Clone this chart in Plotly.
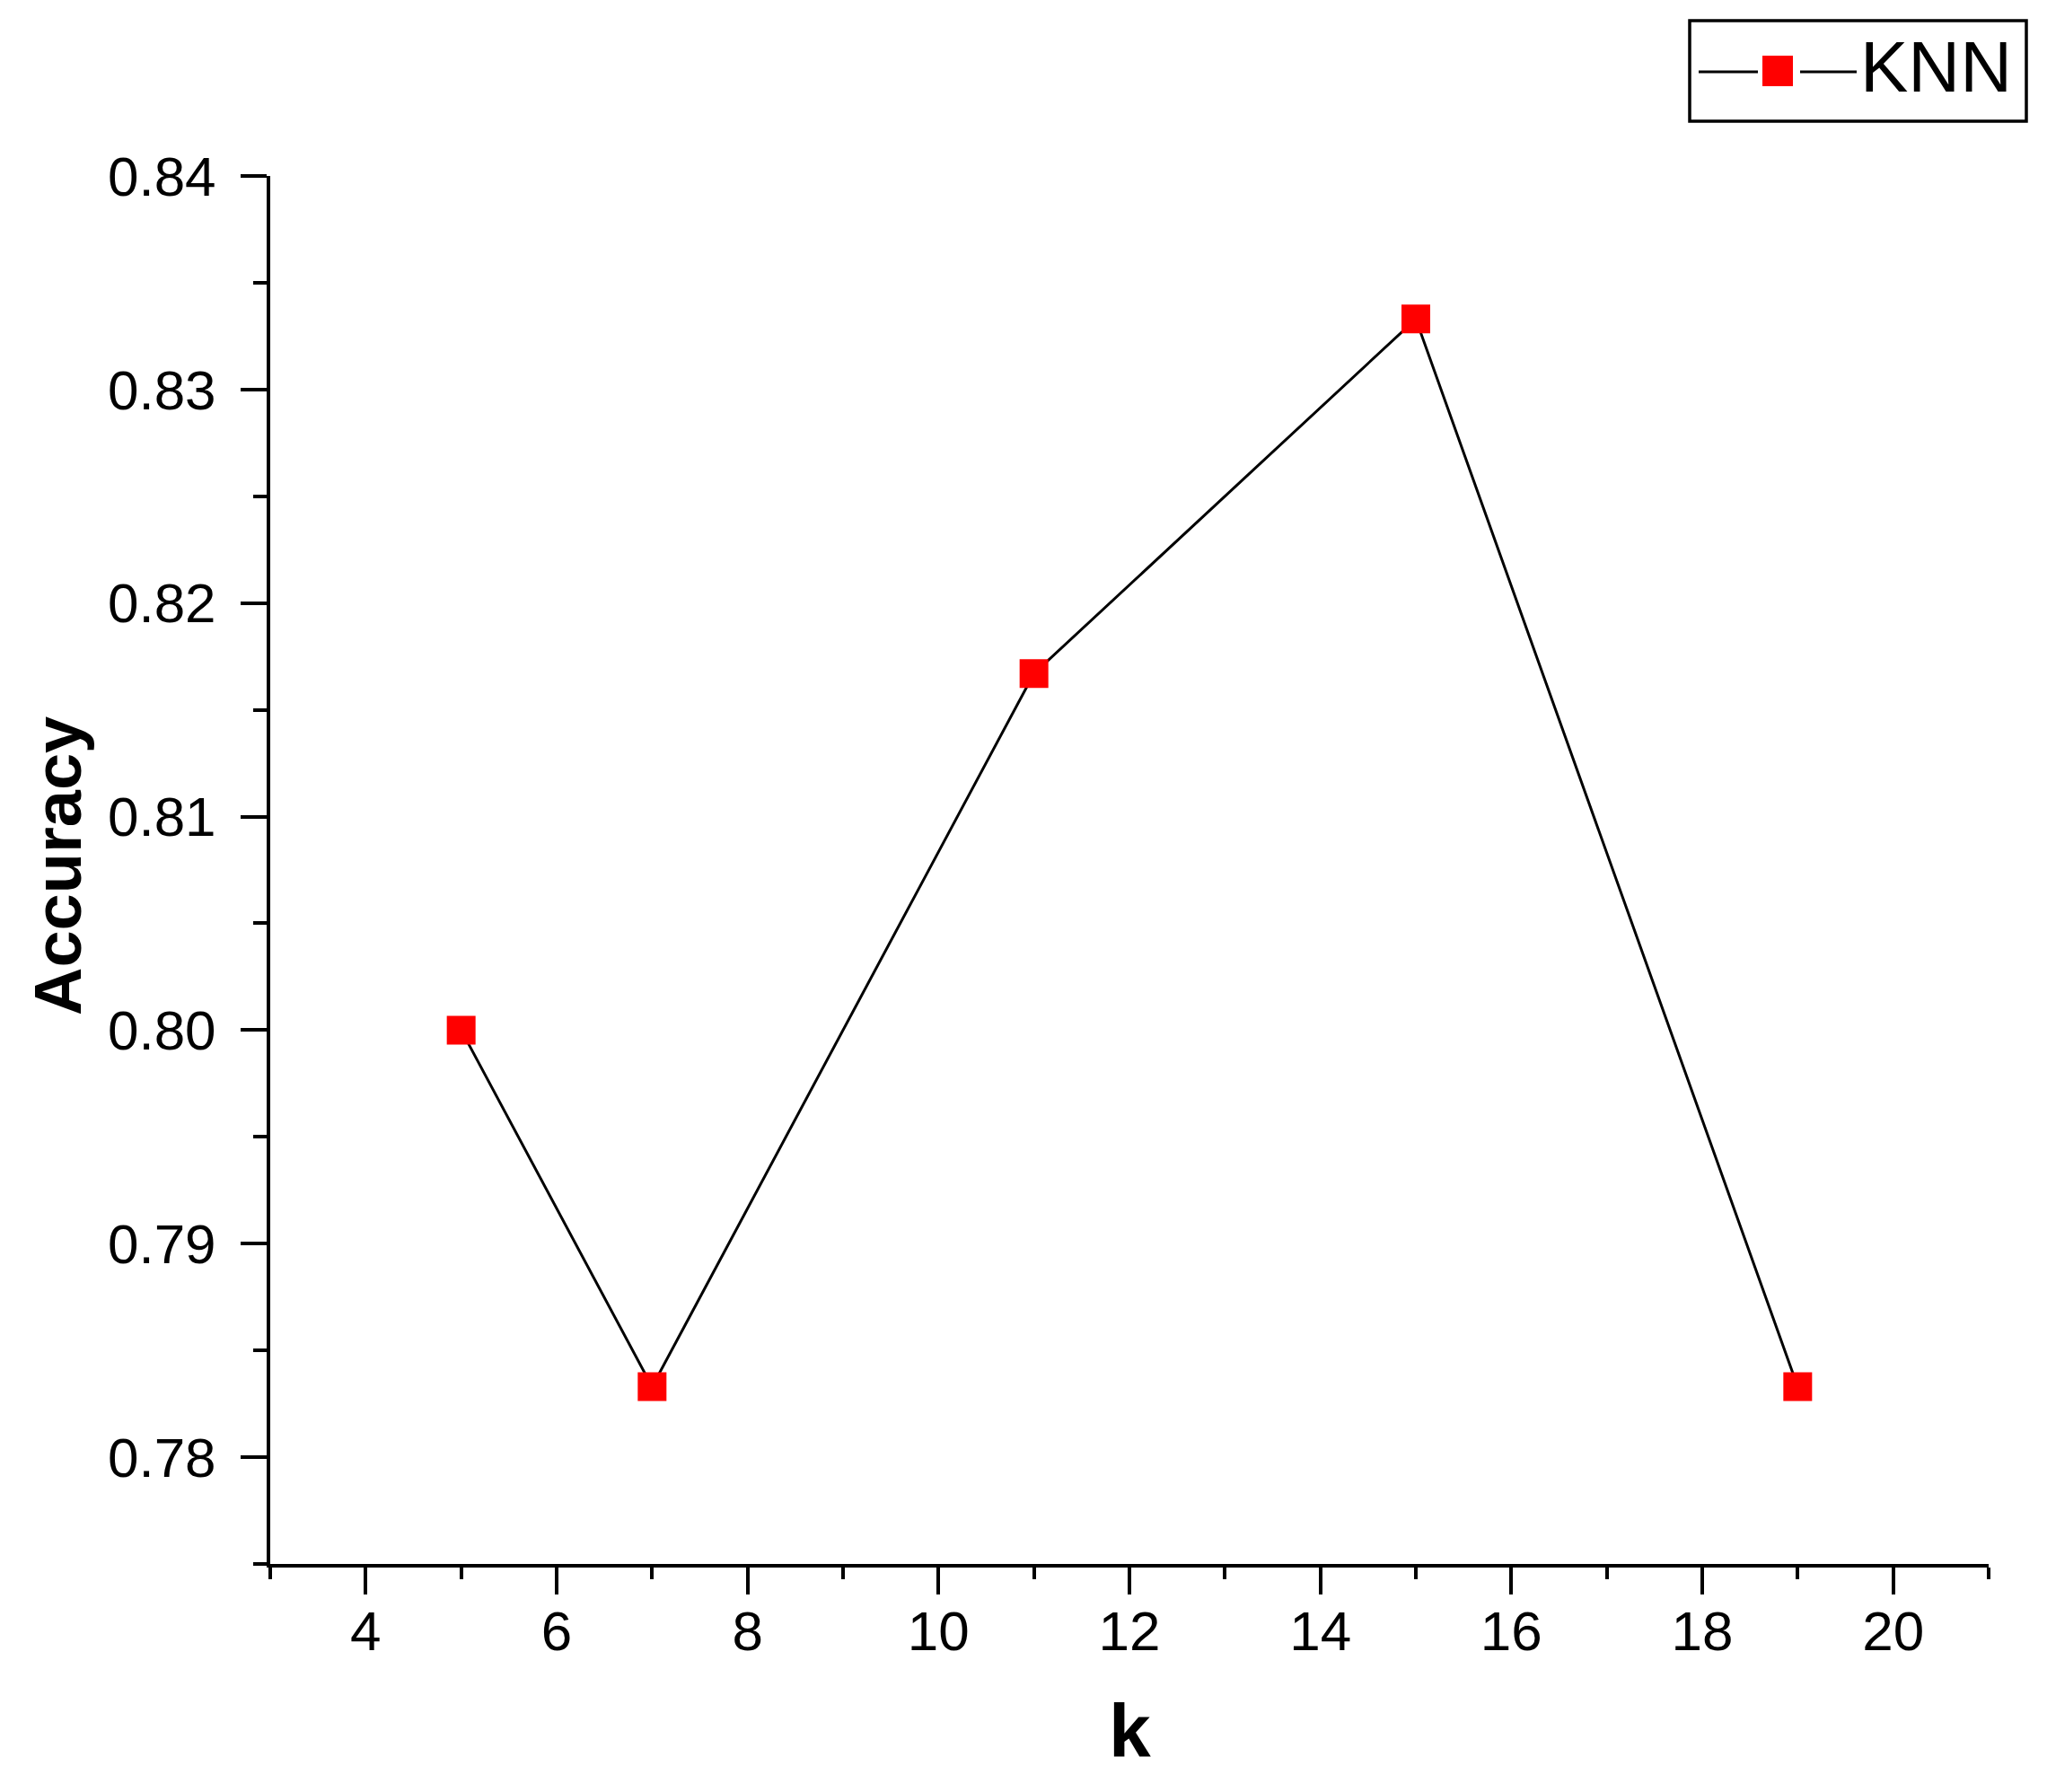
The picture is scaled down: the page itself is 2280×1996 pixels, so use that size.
import plotly.graph_objects as go

# data
k_values = [5, 7, 11, 15, 19]
accuracy = [0.8, 0.7833, 0.8167, 0.8333, 0.7833]
series_name = 'KNN'

# the page body adds an 8px margin, so the figure is made that much smaller
OFF = 8
W, H = 2280 - 2 * OFF, 1996 - 2 * OFF
# plot area in screen pixels (as measured on the reference)
L, R, T, B = 301, 2215, 196, 1742
pw, ph = R - L, B - T


def px_x(px):
    return (px - L) / pw


def px_y(py):
    return (B - py) / ph


font_family = 'Liberation Sans, Arial, sans-serif'

fig = go.Figure()
fig.add_trace(go.Scatter(
    x=k_values,
    y=accuracy,
    mode='lines+markers',
    name=series_name,
    line=dict(color='black', width=3),
    marker=dict(symbol='square', size=32, color='#ff0000', line=dict(width=0)),
    showlegend=False,
))

# hand-drawn legend box (Origin style)
legend_shapes = [
    dict(type='rect', xref='paper', yref='paper',
         x0=px_x(1882), x1=px_x(2257), y0=px_y(135), y1=px_y(23),
         line=dict(color='black', width=3.5), fillcolor='white'),
    dict(type='line', xref='paper', yref='paper',
         x0=px_x(1892), x1=px_x(1958), y0=px_y(80), y1=px_y(80),
         line=dict(color='black', width=3)),
    dict(type='line', xref='paper', yref='paper',
         x0=px_x(2005), x1=px_x(2068), y0=px_y(80), y1=px_y(80),
         line=dict(color='black', width=3)),
    dict(type='rect', xref='paper', yref='paper',
         x0=px_x(1963), x1=px_x(1997), y0=px_y(96), y1=px_y(62),
         line=dict(width=0), fillcolor='#ff0000'),
]

fig.update_layout(
    width=W,
    height=H,
    margin=dict(l=L - OFF, r=W - (R - OFF), t=T - OFF, b=H - (B - OFF)),
    plot_bgcolor='white',
    paper_bgcolor='white',
    font=dict(family=font_family, size=62, color='black'),
    shapes=legend_shapes,
    annotations=[
        dict(text=series_name, xref='paper', yref='paper',
             x=px_x(2070), y=px_y(74), xanchor='left', yanchor='middle',
             showarrow=False, font=dict(size=80, color='black')),
        dict(text='<b>k</b>', xref='paper', yref='paper',
             x=0.5, y=px_y(1928), xanchor='center', yanchor='middle',
             showarrow=False, font=dict(size=84, color='black')),
        dict(text='<b>Accuracy</b>', xref='paper', yref='paper',
             x=px_x(64), y=px_y(965), xanchor='center', yanchor='middle',
             textangle=-90, showarrow=False, font=dict(size=74, color='black')),
    ],
    xaxis=dict(
        range=[3, 21],
        tickmode='linear', tick0=4, dtick=2,
        ticks='outside', ticklen=30, tickwidth=4, tickcolor='black',
        minor=dict(tickmode='linear', tick0=3, dtick=1, ticks='outside',
                   ticklen=13, tickwidth=4, tickcolor='black'),
        showline=True, linecolor='black', linewidth=4,
        showgrid=False, zeroline=False,
        ticklabelstandoff=-12,
        tickfont=dict(size=62),
    ),
    yaxis=dict(
        range=[0.775, 0.84],
        tickmode='linear', tick0=0.78, dtick=0.01, tickformat='.2f',
        ticks='outside', ticklen=29, tickwidth=4, tickcolor='black',
        minor=dict(tickmode='linear', tick0=0.775, dtick=0.005, ticks='outside',
                   ticklen=15, tickwidth=4, tickcolor='black'),
        showline=True, linecolor='black', linewidth=4,
        showgrid=False, zeroline=False,
        ticklabelstandoff=15,
        tickfont=dict(size=62),
    ),
)

fig.write_html('out.html')
